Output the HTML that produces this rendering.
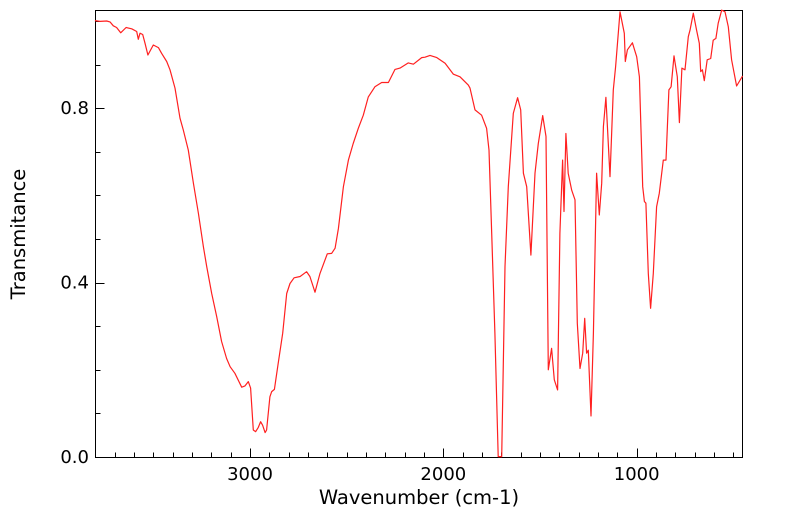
<!DOCTYPE html>
<html><head><meta charset="utf-8"><style>
html,body{margin:0;padding:0;background:#fff;}
svg{display:block;font-family:"DejaVu Sans","Liberation Sans",sans-serif;}
</style></head><body>
<svg id="chart" width="799" height="516" viewBox="0 0 799 516" xmlns="http://www.w3.org/2000/svg">
<rect x="95.5" y="10.5" width="647" height="447" fill="none" stroke="#000" stroke-width="1"/>
<g id="ticks"></g>
<g id="labels"></g>
<path id="spectrum" fill="none" stroke="#ff2020" stroke-width="1.2" stroke-linejoin="round"/>
<text x="419" y="504" font-size="19.5" text-anchor="middle">Wavenumber (cm-1)</text>
<text transform="translate(25,234) rotate(-90)" font-size="19.5" text-anchor="middle">Transmitance</text>
</svg>
<script>
const wavenumbers = [3802,3776,3741,3724,3707,3690,3669,3641,3612,3586,3578,3569,3555,3543,3528,3500,3474,3457,3431,3414,3388,3362,3345,3319,3293,3267,3241,3224,3198,3172,3147,3121,3103,3078,3043,3026,3009,2997,2983,2971,2957,2945,2935,2922,2914,2897,2888,2874,2854,2831,2810,2793,2772,2741,2707,2690,2664,2638,2600,2578,2560,2543,2517,2491,2466,2440,2414,2388,2354,2319,2284,2250,2224,2181,2155,2112,2095,2069,2034,1991,1948,1914,1871,1862,1836,1802,1776,1764,1750,1733,1716,1698,1681,1664,1638,1616,1600,1586,1569,1547,1526,1509,1486,1469,1457,1440,1426,1409,1397,1383,1376,1366,1354,1336,1319,1307,1293,1279,1269,1259,1250,1236,1224,1207,1193,1181,1172,1159,1138,1121,1109,1086,1064,1059,1048,1022,1000,986,969,960,952,940,928,914,897,883,862,848,833,822,807,790,779,766,750,733,724,707,690,676,669,660,650,635,617,604,590,578,560,543,526,509,483,452];
const transmittance = [1.001,0.999,1.000,0.998,0.989,0.985,0.973,0.985,0.982,0.976,0.958,0.972,0.969,0.949,0.922,0.945,0.939,0.926,0.907,0.888,0.846,0.777,0.750,0.704,0.628,0.559,0.482,0.437,0.375,0.322,0.265,0.226,0.207,0.192,0.160,0.163,0.173,0.158,0.062,0.058,0.068,0.081,0.073,0.056,0.062,0.138,0.150,0.155,0.215,0.284,0.375,0.398,0.411,0.414,0.425,0.414,0.378,0.421,0.466,0.467,0.479,0.524,0.620,0.681,0.719,0.754,0.784,0.826,0.849,0.859,0.859,0.889,0.892,0.904,0.901,0.916,0.917,0.921,0.916,0.903,0.878,0.872,0.853,0.846,0.796,0.784,0.754,0.704,0.513,0.284,0.001,0.001,0.437,0.620,0.788,0.824,0.796,0.651,0.620,0.463,0.651,0.719,0.783,0.735,0.200,0.249,0.177,0.154,0.513,0.681,0.563,0.742,0.651,0.612,0.590,0.307,0.203,0.238,0.318,0.238,0.245,0.094,0.284,0.651,0.555,0.628,0.758,0.825,0.643,0.842,0.895,1.021,0.972,0.907,0.934,0.950,0.918,0.872,0.620,0.586,0.582,0.421,0.341,0.421,0.574,0.605,0.681,0.681,0.842,0.849,0.920,0.872,0.767,0.892,0.888,0.964,0.979,1.018,0.979,0.949,0.884,0.888,0.863,0.911,0.914,0.956,0.960,0.995,1.025,1.021,0.987,0.911,0.851,0.874];
const xTickLabels = [3000,2000,1000];
const yTickLabels = [0.0,0.4,0.8];

const NS="http://www.w3.org/2000/svg";
const X0=95.5, X1=742.5, Y0=457.5;
const xScale = wn => 250 + (3000 - wn) * 0.19333;
const yScale = t => 457 - t * 436;

let d="";
for(let i=0;i<wavenumbers.length;i++){
  d += (i?"L":"M") + xScale(wavenumbers[i]).toFixed(1) + "," + yScale(transmittance[i]).toFixed(1);
}
document.getElementById("spectrum").setAttribute("d", d);

const tg=document.getElementById("ticks"), lg=document.getElementById("labels");
function line(x1,y1,x2,y2,name){
  const l=document.createElementNS(NS,"line");
  l.setAttribute("x1",x1);l.setAttribute("y1",y1);l.setAttribute("x2",x2);l.setAttribute("y2",y2);
  l.setAttribute("stroke","#000");l.setAttribute("stroke-width","1");
  
  
  tg.appendChild(l);
}
for(let wn=3700; wn>=500; wn-=100){
  const x=Math.round(xScale(wn))+0.5;
  const major = wn%1000===0;
  line(x,Y0,x,Y0-(major?9:5),"x-tick");
}
for(let k=0;k<=10;k++){
  const t=k/10, y=Math.round(yScale(t))+0.5;
  const major = k%4===0;
  line(X0,y,X0+(major?9:5),y,"y-tick");
}
xTickLabels.forEach(v=>{
  const t=document.createElementNS(NS,"text");
  t.setAttribute("x",xScale(v));t.setAttribute("y",480);
  t.setAttribute("font-size","18");t.setAttribute("text-anchor","middle");
  
  
  t.textContent=v; lg.appendChild(t);
});
yTickLabels.forEach(v=>{
  const t=document.createElementNS(NS,"text");
  t.setAttribute("x",89);t.setAttribute("y",yScale(v)+6);
  t.setAttribute("font-size","18");t.setAttribute("text-anchor","end");
  
  
  t.textContent=v.toFixed(1); lg.appendChild(t);
});
</script>
</body></html>
